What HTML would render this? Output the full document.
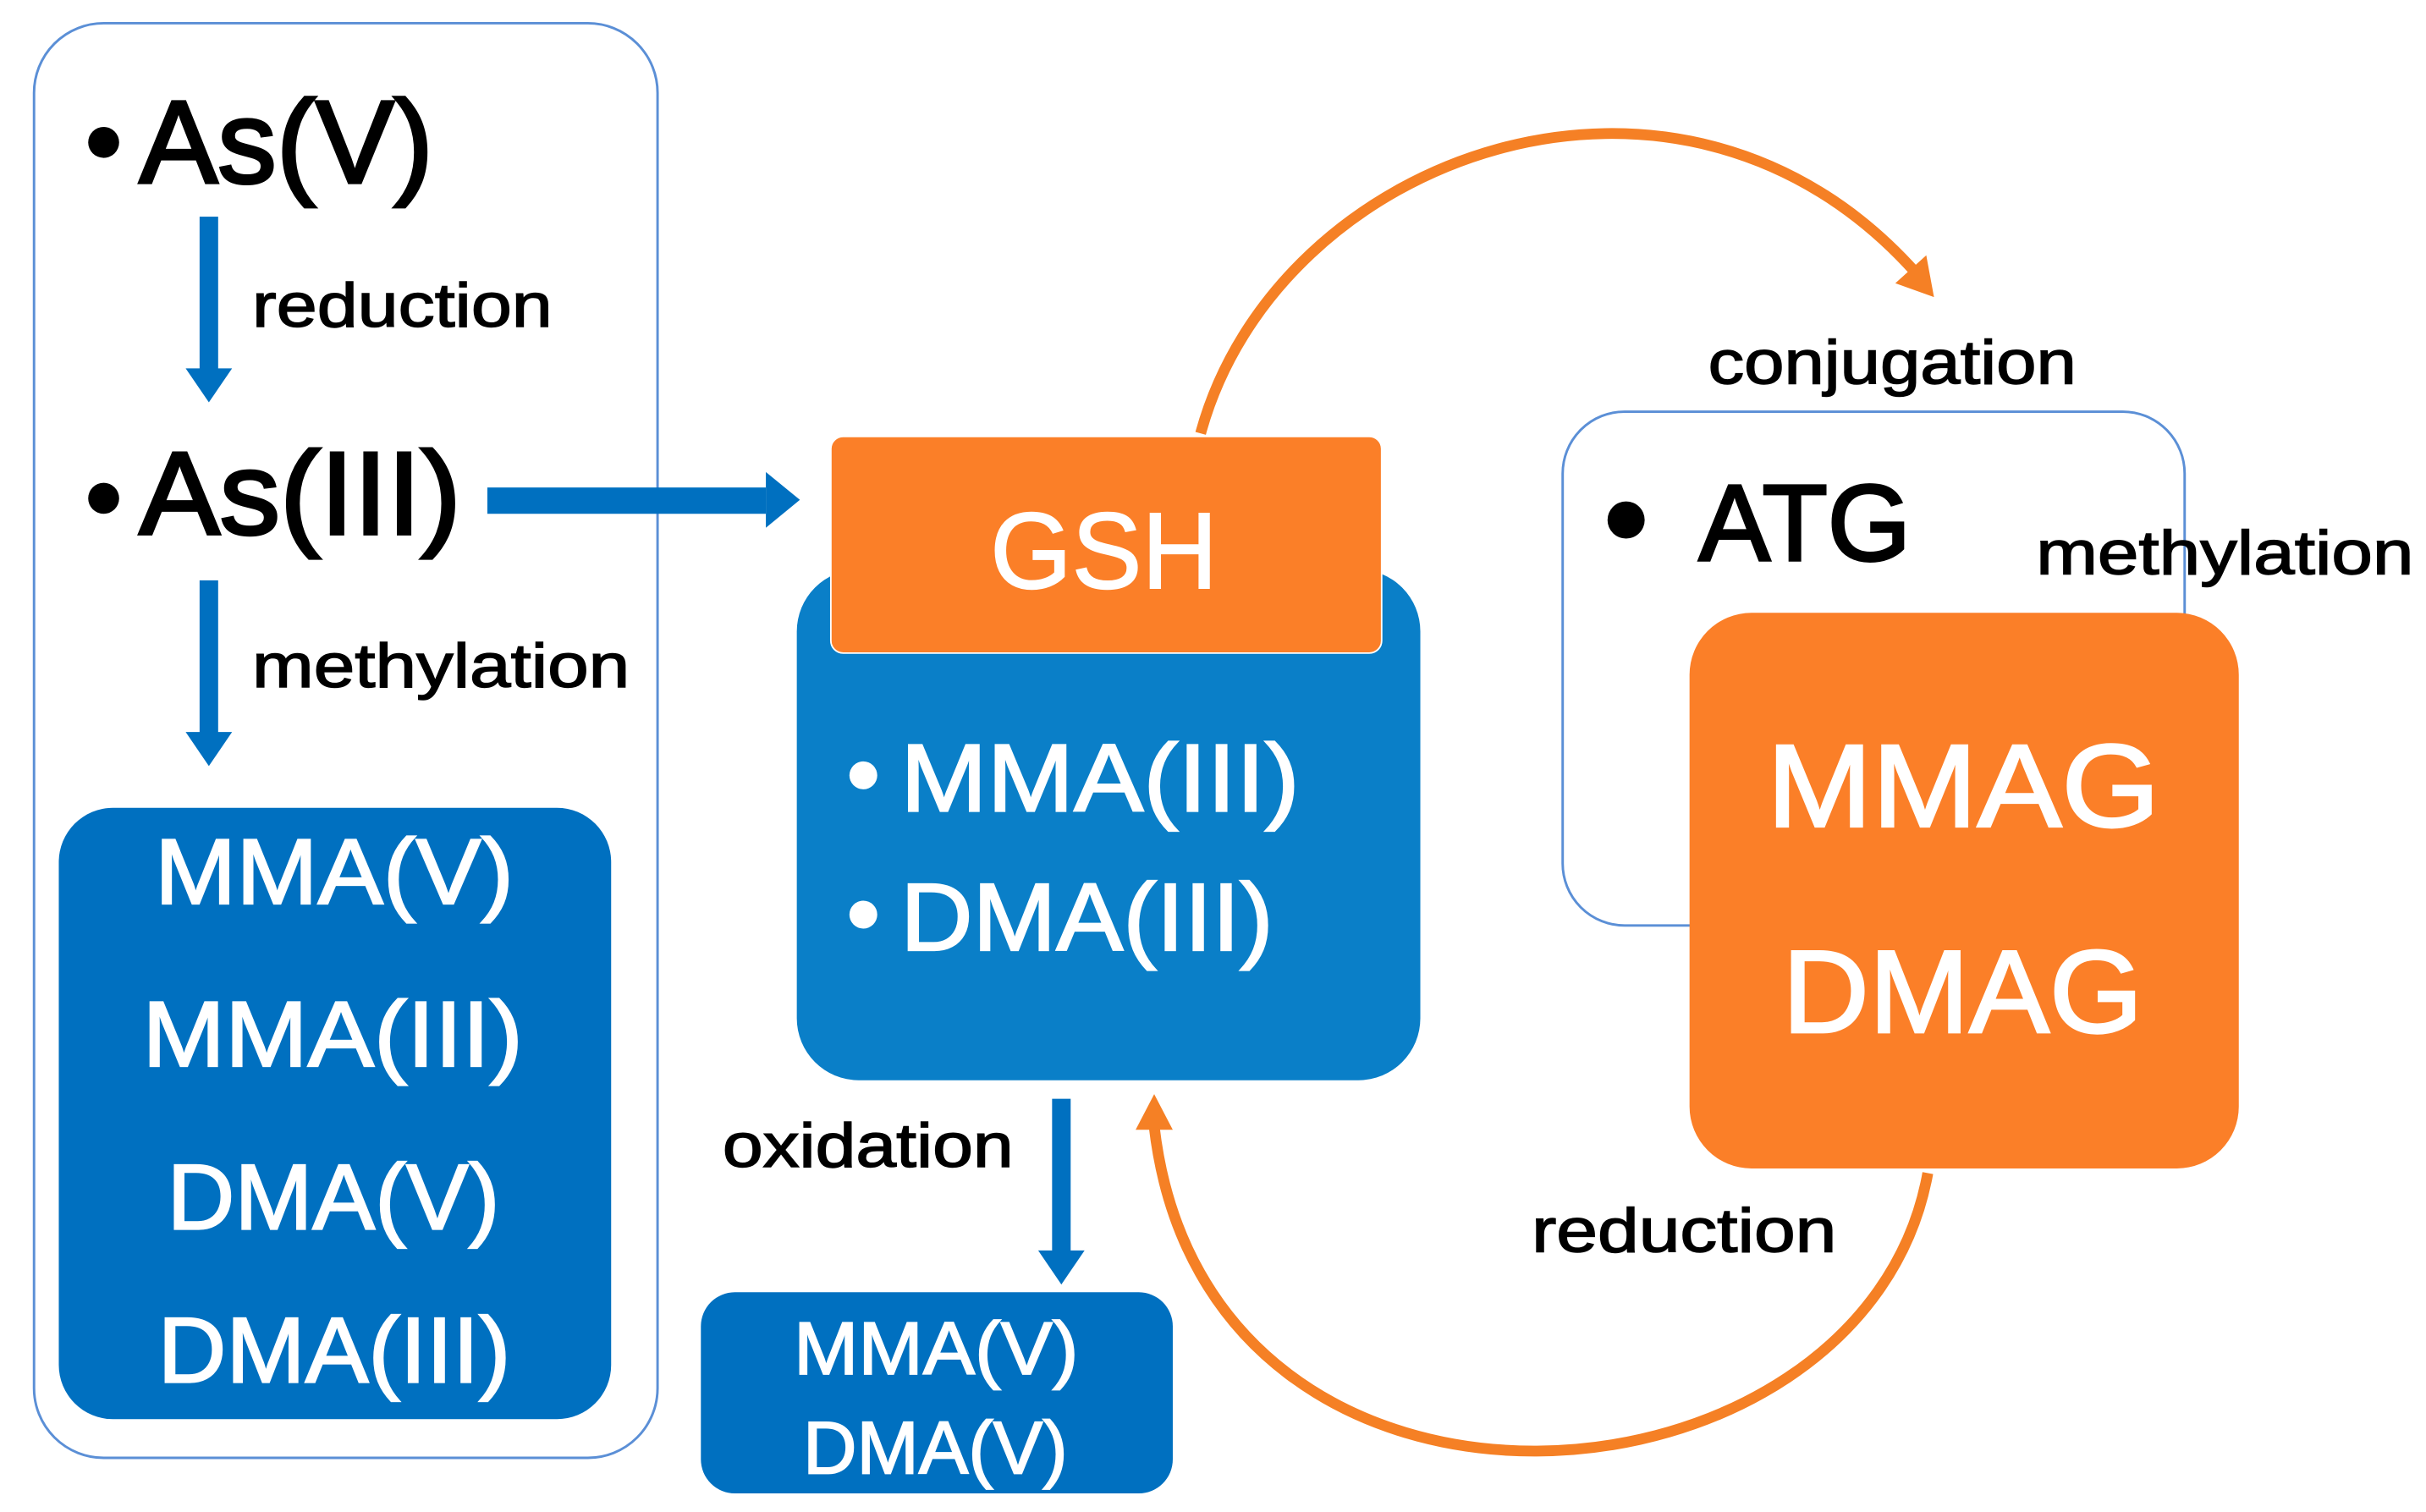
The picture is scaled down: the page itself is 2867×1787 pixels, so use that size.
<!DOCTYPE html>
<html><head><meta charset="utf-8"><style>
html,body{margin:0;padding:0;background:#fff;}
svg{display:block;}
text{font-family:"Liberation Sans",sans-serif;}
</style></head><body>
<svg width="2867" height="1787" viewBox="0 0 1568 977" preserveAspectRatio="none" xmlns="http://www.w3.org/2000/svg">
<rect x="0" y="0" width="1568" height="977" fill="#fff"/>
<rect x="22" y="15" width="403" height="927" rx="45" fill="none" stroke="#5B8FD6" stroke-width="1.6"/>
<circle cx="67" cy="92" r="10" fill="#000"/>
<text x="90" y="118" font-size="76" textLength="190" lengthAdjust="spacingAndGlyphs" fill="#000" stroke="#000" stroke-width="2">As(V)</text>
<rect x="129" y="140" width="12" height="100" fill="#0070C0"/>
<polygon points="120,238 150,238 135,260" fill="#0070C0"/>
<text x="163" y="211" font-size="40" textLength="194" lengthAdjust="spacingAndGlyphs" stroke="#000" stroke-width="0.8">reduction</text>
<circle cx="67" cy="322" r="10" fill="#000"/>
<text x="90" y="345" font-size="76" textLength="208" lengthAdjust="spacingAndGlyphs" fill="#000" stroke="#000" stroke-width="2">As(III)</text>
<rect x="129" y="375" width="12" height="100" fill="#0070C0"/>
<polygon points="120,473 150,473 135,495" fill="#0070C0"/>
<text x="163" y="444" font-size="40" textLength="244" lengthAdjust="spacingAndGlyphs" stroke="#000" stroke-width="0.8">methylation</text>
<rect x="38" y="522" width="357" height="395" rx="35" fill="#0070C0"/>
<g fill="#fff" font-size="60" stroke="#fff" stroke-width="1.2">
<text x="100" y="584" textLength="232" lengthAdjust="spacingAndGlyphs">MMA(V)</text>
<text x="92" y="689" textLength="246" lengthAdjust="spacingAndGlyphs">MMA(III)</text>
<text x="108" y="794" textLength="215" lengthAdjust="spacingAndGlyphs">DMA(V)</text>
<text x="102" y="893" textLength="228" lengthAdjust="spacingAndGlyphs">DMA(III)</text>
</g>
<rect x="315" y="315" width="180" height="17" fill="#0070C0"/>
<polygon points="495,305 517,323 495,341" fill="#0070C0"/>
<rect x="515" y="368" width="403" height="330" rx="40" fill="#0A7FC8"/>
<rect x="537" y="282" width="356" height="140" rx="8" fill="#FB7F28" stroke="#fff" stroke-width="1"/>
<text x="640" y="380" font-size="70" fill="#fff" stroke="#fff" stroke-width="1" textLength="147" lengthAdjust="spacingAndGlyphs">GSH</text>
<circle cx="558" cy="501" r="9" fill="#fff"/>
<text x="582" y="524" font-size="62" fill="#fff" stroke="#fff" stroke-width="1.2" textLength="258" lengthAdjust="spacingAndGlyphs">MMA(III)</text>
<circle cx="558" cy="591" r="9" fill="#fff"/>
<text x="582" y="614" font-size="62" fill="#fff" stroke="#fff" stroke-width="1.2" textLength="241" lengthAdjust="spacingAndGlyphs">DMA(III)</text>
<rect x="680" y="710" width="12" height="100" fill="#0070C0"/>
<polygon points="671,808 701,808 686,830" fill="#0070C0"/>
<text x="467" y="754" font-size="40" textLength="188" lengthAdjust="spacingAndGlyphs" stroke="#000" stroke-width="0.8">oxidation</text>
<rect x="453" y="835" width="305" height="130" rx="22" fill="#0070C0"/>
<text x="513" y="888" font-size="48" fill="#fff" stroke="#fff" stroke-width="1" textLength="184" lengthAdjust="spacingAndGlyphs">MMA(V)</text>
<text x="519" y="952" font-size="48" fill="#fff" stroke="#fff" stroke-width="1" textLength="171" lengthAdjust="spacingAndGlyphs">DMA(V)</text>
<rect x="1010" y="266" width="402" height="332" rx="40" fill="#fff" stroke="#5B8FD6" stroke-width="1.6"/>
<circle cx="1051" cy="336" r="12" fill="#000"/>
<text x="1098" y="362" font-size="70" textLength="137" lengthAdjust="spacingAndGlyphs" stroke="#000" stroke-width="1.8">ATG</text>
<text x="1104" y="248" font-size="40" textLength="238" lengthAdjust="spacingAndGlyphs" stroke="#000" stroke-width="0.8">conjugation</text>
<rect x="1092" y="396" width="355" height="359" rx="40" fill="#FB7F28"/>
<text x="1316" y="371" font-size="40" textLength="244" lengthAdjust="spacingAndGlyphs" stroke="#000" stroke-width="0.8">methylation</text>
<text x="1142" y="534" font-size="76" fill="#fff" stroke="#fff" stroke-width="1.5" textLength="254" lengthAdjust="spacingAndGlyphs">MMAG</text>
<text x="1152" y="667" font-size="76" fill="#fff" stroke="#fff" stroke-width="1.5" textLength="233" lengthAdjust="spacingAndGlyphs">DMAG</text>
<text x="990" y="809" font-size="40" textLength="197" lengthAdjust="spacingAndGlyphs" stroke="#000" stroke-width="0.8">reduction</text>
<path d="M 776 280 C 825 100, 1085 5, 1238 176" fill="none" stroke="#F58025" stroke-width="7"/>
<polygon points="1225,183 1250,192 1245,165" fill="#F58025"/>
<path d="M 1246 758 C 1205 985, 780 1020, 746 728" fill="none" stroke="#F58025" stroke-width="7"/>
<polygon points="734,730 758,730 746,707" fill="#F58025"/>
</svg>
</body></html>
